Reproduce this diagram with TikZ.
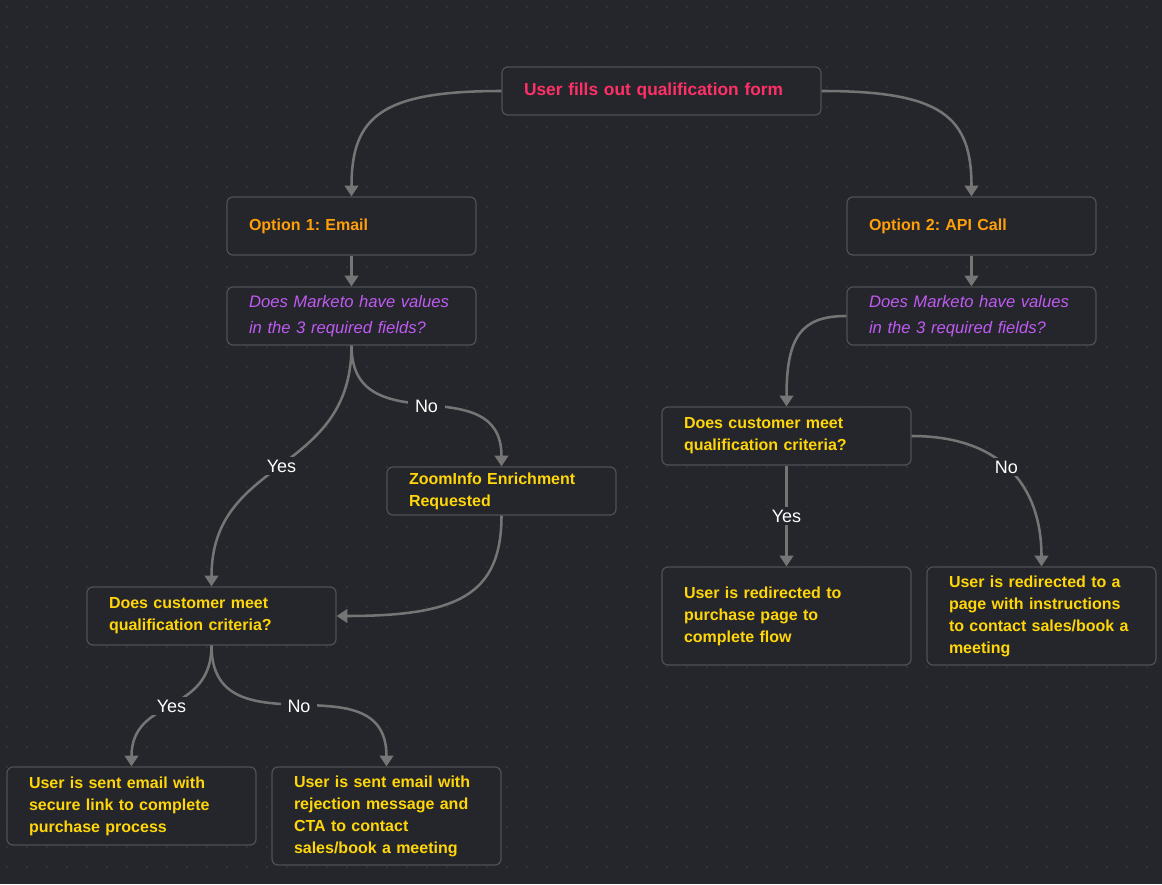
\documentclass[tikz,border=0pt]{standalone}
\usepackage{fontspec}
\setmainfont{Liberation Sans}
\usetikzlibrary{arrows.meta}
\definecolor{canvas}{HTML}{25262B}
\definecolor{griddot}{HTML}{36373C}
\definecolor{boxline}{HTML}{505156}
\definecolor{linkgray}{HTML}{757575}
\definecolor{titlepink}{HTML}{FF2F68}
\definecolor{optorange}{HTML}{FF9F0A}
\definecolor{askpurple}{HTML}{BF5AF2}
\definecolor{stepyellow}{HTML}{FFD60A}
\frenchspacing

\begin{document}
\begin{tikzpicture}[x=0.75pt,y=0.75pt,yscale=-1,xscale=1,
  card/.style={draw=boxline, fill=canvas, line width=0.9pt, rounded corners=4.5pt,
    inner xsep=16.5pt, inner ysep=0pt, align=left, text=stepyellow,
    font=\bfseries\fontsize{12}{16.5}\selectfont},
  wide/.style={text width=153.75pt},
  narrow/.style={text width=138.75pt},
  ask/.style={text=askpurple, font=\itshape\fontsize{12.5}{19.5}\selectfont},
  link/.style={draw=linkgray, line width=1.9pt, -{Triangle[width=10pt,length=8pt]}},
  tag/.style={fill=canvas, text=white, inner xsep=5pt, inner ysep=2pt,
    font=\fontsize{13.5}{16}\selectfont}]

%background and dot grid
\fill[canvas] (0,0) rectangle (1162,884);
\useasboundingbox (0,0) rectangle (1162,884);
\foreach \i in {0,...,57}
  \foreach \j in {0,...,43}
    \fill[griddot] (7+20*\i,7+20*\j) circle (0.9pt);

% Nodes
\node[card, minimum height=36pt, text width=206.25pt, text=titlepink,
  font=\bfseries\fontsize{13}{16}\selectfont] (form) at (661.5,91) {User fills out qualification form};
\node[card, wide, minimum height=43.5pt, text=optorange] (opt1) at (351.5,226) {Option 1: Email};
\node[card, wide, minimum height=43.5pt, text=optorange] (opt2) at (971.5,226) {Option 2: API Call};
\node[card, wide, ask, minimum height=43.5pt] (mkto1) at (351.5,316) {Does Marketo have values\\in the 3 required fields?};
\node[card, wide, ask, minimum height=43.5pt] (mkto2) at (971.5,316) {Does Marketo have values\\in the 3 required fields?};
\node[card, narrow, minimum height=36pt] (zoom) at (501.5,491) {ZoomInfo Enrichment\\Requested};
\node[card, wide, minimum height=43.5pt] (crit1) at (211.5,616) {Does customer meet\\qualification criteria?};
\node[card, wide, minimum height=43.5pt] (crit2) at (786.5,436) {Does customer meet\\qualification criteria?};
\node[card, wide, minimum height=73.5pt] (buy) at (786.5,616) {User is redirected to\\purchase page to\\complete flow};
\node[card, narrow, minimum height=73.5pt] (instr) at (1041.5,616) {User is redirected to a\\page with instructions\\to contact sales/book a\\meeting};
\node[card, wide, minimum height=58.5pt] (secure) at (131.5,806) {User is sent email with\\secure link to complete\\purchase process};
\node[card, narrow, minimum height=73.5pt] (reject) at (386.5,816) {User is sent email with\\rejection message and\\CTA to contact\\sales/book a meeting};

% Connectors
\draw[link] (form.west) .. controls +(-120,0) and +(0,-80) .. (opt1.north);
\draw[link] (form.east) .. controls +(120,0) and +(0,-80) .. (opt2.north);
\draw[link] (opt1) -- (mkto1);
\draw[link] (opt2) -- (mkto2);
\draw[link] (mkto1.south) .. controls +(0,130) and +(0,-130) .. node[tag] (yes1) {Yes} (crit1.north);
\draw[link] (mkto1.south) .. controls +(0,100) and +(0,-100) .. node[tag] (no1) {No} (zoom.north);
\draw[link] (zoom.south) .. controls +(0,80) and +(120,0) .. (crit1.east);
\draw[link] (mkto2.west) .. controls +(-45,0) and +(0,-70) .. (crit2.north);
\draw[link] (crit2) -- node[tag] (yes2) {Yes} (buy);
\draw[link] (crit2.east) .. controls +(90,0) and +(0,-80) .. node[tag, pos=0.47] (no2) {No} (instr.north);
\draw[link] (crit1.south) .. controls +(0,70) and +(0,-70) .. node[tag] (yes3) {Yes} (secure.north);
\draw[link] (crit1.south) .. controls +(0,110) and +(0,-110) .. node[tag] (no3) {No} (reject.north);

\end{tikzpicture}
\end{document}
